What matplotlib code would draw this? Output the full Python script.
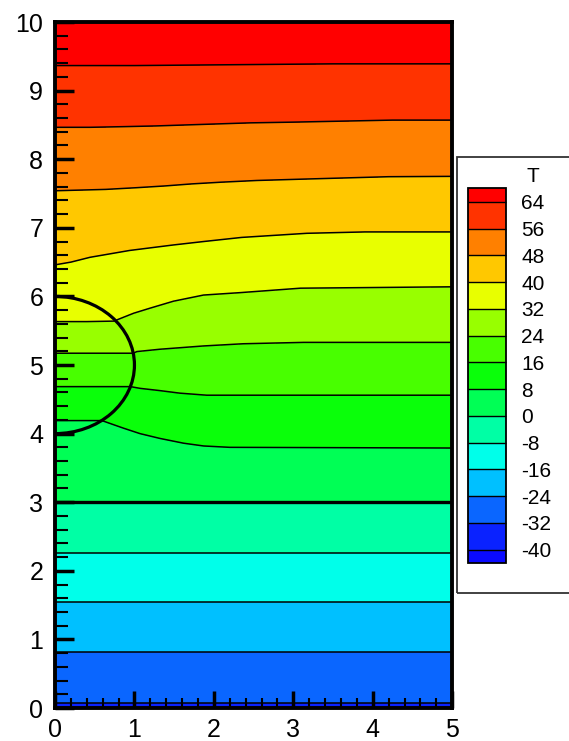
import numpy as np
import matplotlib.pyplot as plt
from matplotlib.colors import ListedColormap
from matplotlib.patches import Arc, Rectangle

plt.rcParams['font.family'] = ['Liberation Sans', 'DejaVu Sans']
plt.rcParams['axes.unicode_minus'] = False

# contour levels and band colours (first = below -40, last = above 64)
levels = [-40, -32, -24, -16, -8, 0, 8, 16, 24, 32, 40, 48, 56, 64]
band_colors = ['#0A0AFF', '#0A22FF', '#0A66FF', '#00C0FF', '#00FFEA', '#00FFA5',
               '#00FF55', '#0AFF0A', '#48FF00', '#98FF00', '#E8FF00', '#FFC800',
               '#FF8000', '#FF3300', '#FF0000']

# isotherms: T value, x points, y points
xs = [0.0, 0.5, 1.0, 1.5, 2.0, 2.5, 3.0, 3.5, 4.0, 5.0]

T_rows = [-33, -32, -24, -16, -8, 0, 8, 16, 24, 32, 40, 48, 56, 64, 70]

y_m33 = [0.0] * 10
y_m32 = [0.07] * 10
y_m24 = [0.813] * 10
y_m16 = [1.54] * 10
y_m8 = [2.26] * 10
y_0 = [3.0] * 10

x_8 = [0.0, 0.3, 0.59, 0.86, 1.07, 1.32, 1.62, 1.87, 2.2, 5.0]
y_8 = [4.19, 4.19, 4.19, 4.08, 4.0, 3.93, 3.86, 3.82, 3.80, 3.79]

x_16 = [0.0, 0.3, 0.6, 0.95, 1.07, 1.32, 1.57, 1.91, 3.0, 5.0]
y_16 = [4.685, 4.685, 4.685, 4.685, 4.66, 4.627, 4.59, 4.56, 4.56, 4.56]

x_24 = [0.0, 0.3, 0.6, 0.985, 1.03, 1.32, 1.87, 2.37, 3.13, 5.0]
y_24 = [5.172, 5.172, 5.172, 5.172, 5.196, 5.23, 5.278, 5.31, 5.33, 5.33]

x_32 = [0.0, 0.4, 0.74, 0.99, 1.2, 1.49, 1.87, 2.33, 3.09, 5.0]
y_32 = [5.633, 5.633, 5.64, 5.755, 5.83, 5.93, 6.02, 6.055, 6.12, 6.14]

x_40 = [0.0, 0.2, 0.44, 0.94, 1.49, 1.87, 2.35, 3.17, 3.9, 5.0]
y_40 = [6.46, 6.50, 6.57, 6.67, 6.75, 6.80, 6.86, 6.92, 6.94, 6.94]

x_48 = [0.0, 0.64, 1.03, 1.38, 1.72, 2.09, 2.54, 3.13, 4.2, 5.0]
y_48 = [7.54, 7.56, 7.585, 7.61, 7.64, 7.665, 7.69, 7.71, 7.745, 7.75]

x_56 = [0.0, 0.44, 0.88, 1.27, 1.66, 2.06, 2.46, 2.98, 4.25, 5.0]
y_56 = [8.465, 8.465, 8.475, 8.485, 8.50, 8.515, 8.53, 8.54, 8.57, 8.57]

y_64 = [9.365, 9.365, 9.365, 9.37, 9.375, 9.38, 9.385, 9.39, 9.39, 9.39]
y_70 = [10.0] * 10

interface_y = 3.0
circle_center = (0.0, 5.0)
circle_radius = 1.0

X = np.array([xs, xs, xs, xs, xs, xs, x_8, x_16, x_24, x_32, x_40, x_48, x_56, xs, xs])
Y = np.array([y_m33, y_m32, y_m24, y_m16, y_m8, y_0, y_8, y_16, y_24, y_32,
              y_40, y_48, y_56, y_64, y_70])
Z = np.repeat(np.array(T_rows, dtype=float)[:, None], X.shape[1], axis=1)

cmap = ListedColormap(band_colors[1:-1])
cmap.set_under(band_colors[0])
cmap.set_over(band_colors[-1])

fig = plt.figure(figsize=(5.69, 7.41), dpi=100)
ax = fig.add_axes([0.0967, 0.0445, 0.698, 0.9258])

cf = ax.contourf(X, Y, Z, levels=levels, cmap=cmap, extend='both')
ax.contour(X, Y, Z, levels=levels, colors='black', linewidths=1.1,
           linestyles='solid')
ax.axhline(interface_y, color='black', lw=2.4)
ax.add_patch(Arc(circle_center, 2 * circle_radius, 2 * circle_radius,
                 theta1=-90, theta2=90, color='black', lw=2.3))

ax.set_xlim(0, 5)
ax.set_ylim(0, 10)
ax.set_xticks(np.arange(0, 6, 1))
ax.set_yticks(np.arange(0, 11, 1))
ax.set_xticks(np.arange(0, 5.01, 0.2), minor=True)
ax.set_yticks(np.arange(0, 10.01, 0.2), minor=True)
ax.tick_params(axis='both', which='both', direction='in', top=False, right=False,
               labelsize=18)
ax.tick_params(axis='x', which='major', length=12, width=2.5, pad=7)
ax.tick_params(axis='x', which='minor', length=7, width=1.5)
ax.tick_params(axis='y', which='major', length=13.5, width=2.5, pad=8.5)
ax.tick_params(axis='y', which='minor', length=9, width=1.5)
for s in ax.spines.values():
    s.set_linewidth(2.8)

# legend box
fig.add_artist(Rectangle((0.803, 0.1997), 0.25, 0.589, transform=fig.transFigure,
                         fill=False, edgecolor='#333333', lw=1.3))
cax = fig.add_axes([0.822, 0.2398, 0.0673, 0.506])
cb = fig.colorbar(cf, cax=cax, extend='both', extendrect=True, extendfrac=0.039,
                  drawedges=True, ticks=levels)
cb.outline.set_linewidth(1.3)
cb.dividers.set_linewidth(1.0)
cax.tick_params(length=0, pad=11, labelsize=15)
fig.text(533 / 569, 1 - 176.7 / 741, 'T', ha='center', va='center', fontsize=15)

fig.savefig('out.png', dpi=100)
